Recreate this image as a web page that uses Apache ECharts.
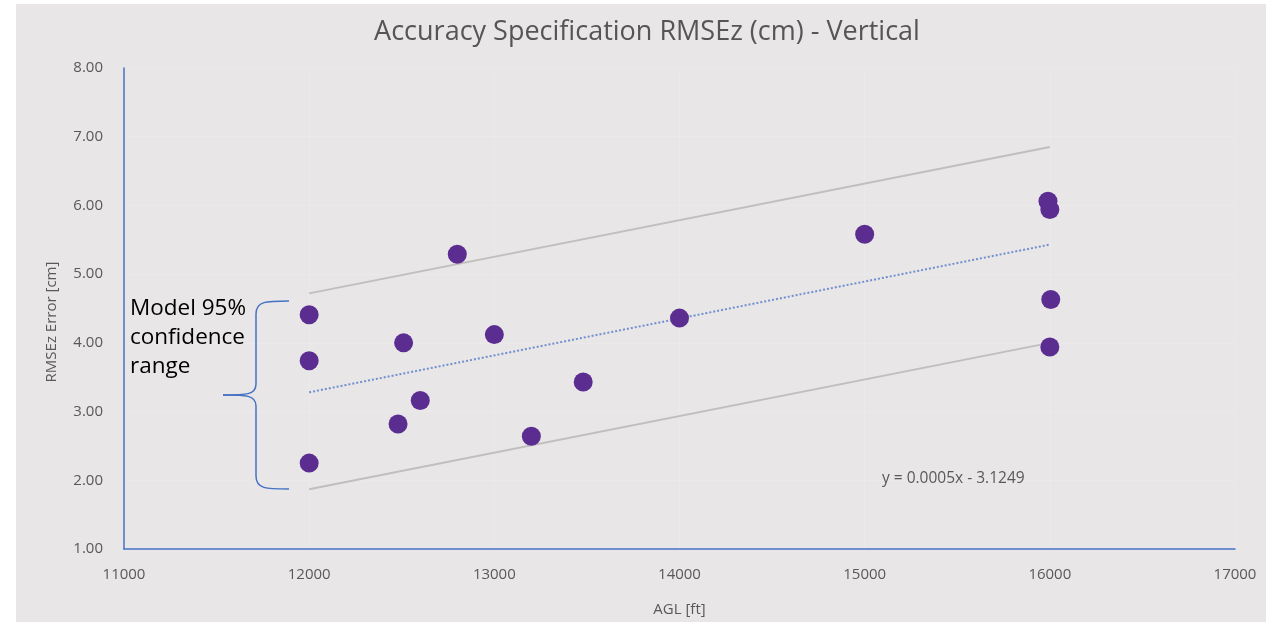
<!DOCTYPE html>
<html>
<head>
<meta charset="utf-8">
<script src="https://cdn.jsdelivr.net/npm/echarts@6/dist/echarts.min.js"></script>
<style>
html,body{margin:0;padding:0;background:#ffffff;}
#chart{position:absolute;left:16px;top:4px;width:1250px;height:618px;}
</style>
</head>
<body>
<div id="chart"></div>
<script>
// Measured points: AGL [ft] and RMSEz [cm]
const aglValues = [12000, 12000, 12000, 12480, 12510, 12600, 12800, 13000, 13200, 13480, 14000, 15000, 15990, 16000, 16005, 16000];
const rmseValues = [4.41, 3.74, 2.25, 2.82, 4.00, 3.16, 5.29, 4.12, 2.64, 3.43, 4.36, 5.58, 6.06, 5.94, 4.63, 3.94];
// Trend line and confidence bounds (end points)
const lineX = [12000, 16000];
const trendY = [3.28, 5.43];
const upperY = [4.72, 6.85];
const lowerY = [1.87, 4.00];
const xTicks = [11000, 12000, 13000, 14000, 15000, 16000, 17000];
const yTicks = [1, 2, 3, 4, 5, 6, 7, 8];
const titleText = 'Accuracy Specification RMSEz (cm) - Vertical';
const xName = 'AGL [ft]';
const yName = 'RMSEz Error [cm]';
const noteLines = ['Model 95%', 'confidence', 'range'];
const eqText = 'y = 0.0005x - 3.1249';

const pts = aglValues.map((x, i) => [x, rmseValues[i]]);
const pair = ys => lineX.map((x, i) => [x, ys[i]]);

const font = '"Open Sans", "Noto Sans", sans-serif';
const braceStyle = {fill: 'none', stroke: '#4472c4', lineWidth: 1.5};
const chart = echarts.init(document.getElementById('chart'));
chart.setOption({
  backgroundColor: '#e8e6e6',
  animation: false,
  title: {
    text: titleText,
    left: 626, top: 10, textAlign: 'center',
    textStyle: {fontFamily: font, fontSize: 27, fontWeight: 'normal', color: '#555555'}
  },
  grid: {left: 108, right: 31, top: 64, bottom: 70, containLabel: false},
  xAxis: {
    type: 'value', min: 11000, max: 17000, interval: 1000,
    axisLine: {show: true, lineStyle: {color: '#4472c4', width: 1.5}},
    axisTick: {show: false},
    axisLabel: {margin: 18, color: '#595959', fontFamily: font, fontSize: 15,
      formatter: v => xTicks.includes(v) ? String(v) : ''},
    splitLine: {show: true, lineStyle: {color: '#ebe9e9', width: 1}},
    name: xName, nameLocation: 'middle', nameGap: 53,
    nameTextStyle: {color: '#595959', fontFamily: font, fontSize: 15}
  },
  yAxis: {
    type: 'value', min: 1, max: 8, interval: 1,
    axisLine: {show: true, lineStyle: {color: '#4472c4', width: 1.5}},
    axisTick: {show: false},
    axisLabel: {margin: 21, color: '#595959', fontFamily: font, fontSize: 15,
      formatter: v => yTicks.includes(v) ? v.toFixed(2) : ''},
    splitLine: {show: true, lineStyle: {color: '#ebe9e9', width: 1}}
  },
  graphic: [
    {type: 'text', x: 36, y: 318, rotation: Math.PI / 2, z: 200,
      style: {text: yName, fill: '#595959', font: '15px ' + font, textAlign: 'center', textVerticalAlign: 'middle'}},
    {type: 'text', x: 114, y: 290, z: 200,
      style: {text: noteLines.join('\n'), fill: '#000000', font: '22.5px "Open Sans", sans-serif', lineHeight: 29}},
    {type: 'bezierCurve', z: 200, shape: {x1: 273, y1: 297, cpx1: 250, cpy1: 297, cpx2: 240, cpy2: 297, x2: 240, y2: 310}, style: braceStyle},
    {type: 'line', z: 200, shape: {x1: 240, y1: 310, x2: 240, y2: 380}, style: braceStyle},
    {type: 'bezierCurve', z: 200, shape: {x1: 240, y1: 380, cpx1: 240, cpy1: 391, cpx2: 230, cpy2: 391, x2: 207, y2: 391}, style: braceStyle},
    {type: 'bezierCurve', z: 200, shape: {x1: 207, y1: 391, cpx1: 230, cpy1: 391, cpx2: 240, cpy2: 391, x2: 240, y2: 402}, style: braceStyle},
    {type: 'line', z: 200, shape: {x1: 240, y1: 402, x2: 240, y2: 472}, style: braceStyle},
    {type: 'bezierCurve', z: 200, shape: {x1: 240, y1: 472, cpx1: 240, cpy1: 485, cpx2: 250, cpy2: 485, x2: 273, y2: 485}, style: braceStyle},
    {type: 'text', x: 866, y: 467, z: 200,
      style: {text: eqText, fill: '#595959', font: '15.5px ' + font}}
  ],
  series: [
    {type: 'line', data: pair(upperY), symbol: 'none', silent: true,
      lineStyle: {color: '#c3bebe', width: 2}, z: 1},
    {type: 'line', data: pair(lowerY), symbol: 'none', silent: true,
      lineStyle: {color: '#c3bebe', width: 2}, z: 1},
    {type: 'line', data: pair(trendY), symbol: 'none', silent: true,
      lineStyle: {color: '#7090d0', width: 2, type: [2, 2]}, z: 2},
    {type: 'scatter', data: pts, symbolSize: 19,
      itemStyle: {color: '#5b2d91', opacity: 1}, z: 3}
  ]
});
</script>
</body>
</html>
